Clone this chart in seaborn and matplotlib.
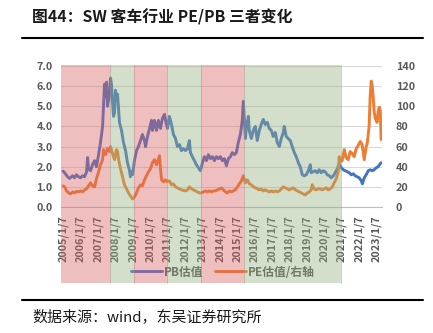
import matplotlib
matplotlib.use('Agg')
import matplotlib.pyplot as plt
import matplotlib.transforms as mtransforms
from matplotlib.patches import Rectangle
from matplotlib.lines import Line2D
import seaborn as sns
import pandas as pd

# ---------------- data ----------------
pb_year = [2005.0, 2005.09, 2005.26, 2005.37, 2005.55, 2005.66, 2005.77, 2005.89, 2006.0, 2006.12,
           2006.23, 2006.35, 2006.41, 2006.46, 2006.58, 2006.69, 2006.81, 2006.92, 2007.04, 2007.15,
           2007.27, 2007.32, 2007.38, 2007.44, 2007.5, 2007.55, 2007.67, 2007.73, 2007.78, 2007.84,
           2007.9, 2007.96, 2008.01, 2008.07, 2008.13, 2008.19, 2008.24, 2008.36, 2008.47, 2008.59,
           2008.7, 2008.82, 2008.87, 2008.93, 2008.99, 2009.1, 2009.22, 2009.33, 2009.45, 2009.56,
           2009.68, 2009.74, 2009.85, 2009.97, 2010.08, 2010.14, 2010.25, 2010.37, 2010.48, 2010.6,
           2010.71, 2010.83, 2010.89, 2011.0, 2011.11, 2011.23, 2011.34, 2011.46, 2011.57, 2011.69,
           2011.8, 2011.92, 2012.04, 2012.15, 2012.26, 2012.32, 2012.43, 2012.55, 2012.66, 2012.78,
           2012.89, 2013.01, 2013.12, 2013.24, 2013.35, 2013.47, 2013.58, 2013.7, 2013.81, 2013.93,
           2014.04, 2014.16, 2014.27, 2014.39, 2014.5, 2014.62, 2014.73, 2014.85, 2014.96, 2015.07,
           2015.19, 2015.3, 2015.36, 2015.42, 2015.48, 2015.53, 2015.65, 2015.7, 2015.82, 2015.93,
           2016.05, 2016.16, 2016.28, 2016.39, 2016.51, 2016.62, 2016.74, 2016.85, 2016.97, 2017.08,
           2017.2, 2017.31, 2017.43, 2017.54, 2017.66, 2017.71, 2017.83, 2017.94, 2018.06, 2018.17,
           2018.29, 2018.4, 2018.52, 2018.63, 2018.75, 2018.86, 2018.98, 2019.09, 2019.21, 2019.26,
           2019.38, 2019.49, 2019.61, 2019.72, 2019.84, 2019.95, 2020.07, 2020.18, 2020.3, 2020.41,
           2020.53, 2020.64, 2020.76, 2020.87, 2020.99, 2021.1, 2021.22, 2021.33, 2021.45, 2021.56,
           2021.68, 2021.79, 2021.91, 2022.02, 2022.14, 2022.2, 2022.31, 2022.42, 2022.54, 2022.65,
           2022.77, 2022.88, 2023.0, 2023.11, 2023.23, 2023.28]
pb_value = [1.78, 1.7, 1.5, 1.42, 1.55, 1.45, 1.6, 1.5, 1.45, 1.55,
            1.5, 1.75, 2.45, 1.9, 1.8, 2.1, 2.3, 2.0, 2.6, 3.2,
            4.0, 5.0, 6.1, 5.5, 6.2, 5.0, 5.6, 6.4, 6.1, 5.2,
            4.5, 4.7, 5.8, 5.3, 5.6, 4.8, 4.2, 3.8, 3.2, 2.8,
            2.2, 1.8, 1.5, 1.75, 1.6, 2.3, 2.8, 3.0, 3.3, 3.6,
            3.3, 3.0, 3.5, 3.9, 4.3, 3.8, 4.3, 3.8, 4.3, 3.9,
            4.4, 4.6, 4.3, 3.9, 4.5, 4.1, 3.6, 3.4, 3.0, 3.1,
            2.8, 2.9, 2.8, 2.9, 3.3, 2.7, 2.5, 2.3, 2.1, 1.95,
            1.8, 2.2, 2.5, 2.3, 2.6, 2.4, 2.5, 2.3, 2.5, 2.4,
            2.5, 2.3, 2.4, 2.05, 2.4, 2.5, 2.7, 2.6, 2.7, 3.2,
            3.6, 4.3, 5.25, 4.4, 3.4, 3.9, 4.5, 3.8, 3.4, 3.8,
            4.0, 3.3, 3.8, 4.1, 4.35, 4.1, 4.2, 3.9, 3.8, 3.5,
            3.7, 3.2, 3.0, 3.4, 3.7, 4.0, 3.5, 3.4, 3.3, 3.0,
            2.7, 2.5, 2.2, 2.0, 1.6, 1.55, 1.6, 1.8, 2.1, 1.7,
            1.75, 1.8, 1.7, 1.85, 1.7, 1.8, 1.75, 1.6, 1.55, 1.45,
            1.55, 1.7, 1.9, 2.15, 1.95, 1.85, 1.8, 1.75, 1.7, 1.6,
            1.65, 1.55, 1.5, 1.45, 1.3, 1.15, 1.45, 1.6, 1.8, 1.85,
            1.8, 1.85, 1.95, 2.0, 2.15, 2.2]

pe_year = [2005.0, 2005.09, 2005.2, 2005.32, 2005.43, 2005.55, 2005.66, 2005.77, 2005.89, 2006.0,
           2006.12, 2006.23, 2006.35, 2006.46, 2006.58, 2006.69, 2006.81, 2006.92, 2007.04, 2007.15,
           2007.27, 2007.32, 2007.44, 2007.55, 2007.67, 2007.73, 2007.84, 2007.96, 2008.07, 2008.13,
           2008.19, 2008.3, 2008.42, 2008.53, 2008.65, 2008.76, 2008.87, 2008.99, 2009.1, 2009.22,
           2009.33, 2009.45, 2009.56, 2009.68, 2009.79, 2009.91, 2010.02, 2010.14, 2010.25, 2010.37,
           2010.48, 2010.54, 2010.6, 2010.66, 2010.77, 2010.89, 2011.0, 2011.11, 2011.23, 2011.34,
           2011.46, 2011.57, 2011.69, 2011.8, 2011.92, 2012.04, 2012.15, 2012.26, 2012.38, 2012.49,
           2012.61, 2012.72, 2012.84, 2012.95, 2013.07, 2013.18, 2013.3, 2013.41, 2013.53, 2013.64,
           2013.76, 2013.87, 2013.99, 2014.1, 2014.22, 2014.33, 2014.44, 2014.56, 2014.67, 2014.79,
           2014.9, 2015.02, 2015.13, 2015.25, 2015.36, 2015.48, 2015.59, 2015.71, 2015.82, 2015.94,
           2016.05, 2016.16, 2016.28, 2016.39, 2016.51, 2016.62, 2016.74, 2016.85, 2016.97, 2017.08,
           2017.2, 2017.31, 2017.43, 2017.54, 2017.66, 2017.77, 2017.89, 2018.0, 2018.12, 2018.23,
           2018.35, 2018.46, 2018.58, 2018.69, 2018.81, 2018.92, 2019.04, 2019.15, 2019.26, 2019.32,
           2019.43, 2019.55, 2019.66, 2019.78, 2019.89, 2020.01, 2020.12, 2020.24, 2020.35, 2020.47,
           2020.58, 2020.7, 2020.81, 2020.87, 2020.93, 2021.04, 2021.16, 2021.27, 2021.39, 2021.5,
           2021.62, 2021.73, 2021.85, 2021.96, 2022.08, 2022.19, 2022.31, 2022.42, 2022.48, 2022.59,
           2022.65, 2022.71, 2022.77, 2022.82, 2022.88, 2022.94, 2023.0, 2023.05, 2023.11, 2023.17,
           2023.23, 2023.28]
pe_value = [21, 20, 16, 14, 13, 15, 14, 15.5, 15, 16,
            15, 17, 18, 21, 24, 21, 20, 28, 35, 42,
            47, 57, 52, 58, 55, 60, 53, 47, 57, 55,
            47, 38, 30, 22, 18, 14, 11, 8, 10, 14,
            19, 22, 21, 27, 31, 35, 38, 44, 47, 42,
            48, 51, 38, 27, 25, 27, 25, 26, 22, 23,
            20, 19, 18, 17, 16.5, 16, 17, 20, 18, 17,
            16, 15, 14, 14, 15, 16, 15, 16, 15, 16,
            16, 17, 18, 19, 17, 15, 14, 16, 15, 16,
            17, 20, 23, 26, 31, 24, 27, 23, 22, 20,
            19, 18, 17, 18, 16, 17, 16, 15, 16, 15,
            16, 15, 16, 18, 20, 19, 18, 17, 18, 19,
            17, 16, 15, 14, 13, 12, 14, 15, 17, 22,
            18, 17, 18, 18, 17, 18, 19, 17, 18, 20,
            24, 28, 35, 50, 45, 46, 57, 49, 47, 55,
            53, 50, 58, 61, 65, 62, 47, 60, 63, 80,
            110, 125, 120, 110, 95, 88, 86, 84, 95, 99,
            96, 67]

tick_years = list(range(2005, 2024))
tick_labels = [f"{y}/1/7" for y in tick_years]

band_start = [2004.88, 2007.67, 2009.05, 2011.0, 2012.9, 2015.42]
band_end = [2007.67, 2009.05, 2011.0, 2012.9, 2015.42, 2020.97]
band_kind = ['red', 'green', 'red', 'green', 'red', 'green']

pb_df = pd.DataFrame({'year': pb_year, 'PB估值': pb_value})
pe_df = pd.DataFrame({'year': pe_year, 'PE估值/右轴': pe_value})

# ---------------- styling ----------------
sns.set_theme(style='white')
plt.rcParams['font.family'] = ['Noto Sans CJK SC', 'DejaVu Sans']

W, H = 433, 333
fig = plt.figure(figsize=(W / 100, H / 100), dpi=100)
fig.patch.set_facecolor('white')

ax_l, ax_r, ax_t, ax_b = 61, 382, 66, 207
ax = fig.add_axes([ax_l / W, 1 - ax_b / H, (ax_r - ax_l) / W, (ax_b - ax_t) / H])
ax2 = ax.twinx()

BLUE = '#4472C4'
ORANGE = '#ED7D31'
GRAY = '#595959'

sns.lineplot(data=pb_df, x='year', y='PB估值', ax=ax, color=BLUE, lw=2.1,
             sort=False, label='PB估值', legend=False)
sns.lineplot(data=pe_df, x='year', y='PE估值/右轴', ax=ax2, color=ORANGE, lw=2.1,
             sort=False, label='PE估值/右轴', legend=False)

ax.set_xlim(2004.88, 2023.33)
ax.set_ylim(0, 7)
ax2.set_ylim(0, 140)
ax.set_yticks([i * 1.0 for i in range(8)])
ax.set_yticklabels([f"{i:.1f}" for i in range(8)])
ax2.set_yticks(list(range(0, 141, 20)))
ax.grid(axis='y', color='#d9d9d9', lw=0.8)
ax.grid(axis='x', visible=False)
ax2.grid(False)
ax.set_xticks([y + 6 / 365 for y in tick_years])
ax.set_xticklabels(tick_labels, rotation=90)
ax.set_xlabel('')
ax.set_ylabel('')
ax2.set_ylabel('')
for a in (ax, ax2):
    for s in a.spines.values():
        s.set_visible(False)
ax.spines['bottom'].set_visible(True)
ax.spines['bottom'].set_color('#bfbfbf')
ax.spines['bottom'].set_linewidth(0.8)
ax.tick_params(axis='x', length=3, color='#bfbfbf', width=0.8, pad=3,
               labelsize=7.8, labelcolor=GRAY)
ax.tick_params(axis='y', length=0, pad=6, labelsize=7.8, labelcolor=GRAY)
ax2.tick_params(axis='y', length=0, pad=10, labelsize=7.8, labelcolor=GRAY)
for lab in ax.get_xticklabels() + ax.get_yticklabels() + ax2.get_yticklabels():
    lab.set_fontweight('bold')

# legend
h1, l1 = ax.get_legend_handles_labels()
h2, l2 = ax2.get_legend_handles_labels()
leg = ax.legend(h1 + h2, l1 + l2, loc='center', bbox_to_anchor=(0.515, 1 - 272 / H),
                bbox_transform=fig.transFigure, ncol=2, frameon=False,
                fontsize=8.5, handlelength=2.6, columnspacing=1.0, handletextpad=0.2)
for t in leg.get_texts():
    t.set_color(GRAY)
    t.set_fontweight('bold')

# translucent regime bands over the plot (drawn at figure level)
trans = mtransforms.blended_transform_factory(ax.transData, fig.transFigure)
band_colors = {'red': '#D96060', 'green': '#93AF7D'}
y0f, y1f = 1 - 283 / H, 1 - 65 / H
for s, e, k in zip(band_start, band_end, band_kind):
    r = Rectangle((s, y0f), e - s, y1f - y0f, transform=trans,
                  facecolor=band_colors[k], alpha=0.4, edgecolor='none', zorder=5)
    fig.add_artist(r)
    fig.add_artist(Line2D([e, e], [y0f, y1f], transform=trans, color='#b08080',
                          lw=0.6, alpha=0.5, zorder=6))

# title, rules, footer
fig.text(32 / W, 1 - 17 / H, '图44：SW 客车行业 PE/PB 三者变化', fontsize=11.4,
         fontweight='bold', color='#1a1a1a', va='center', ha='left')
fig.add_artist(Line2D([22 / W, 423 / W], [1 - 38 / H] * 2, color='black', lw=1.5))
fig.add_artist(Line2D([22 / W, 423 / W], [1 - 300 / H] * 2, color='black', lw=1.5))
fig.text(32 / W, 1 - 317 / H, '数据来源：wind，东吴证券研究所', fontsize=10.8,
         color='#1a1a1a', va='center', ha='left')

fig.savefig('out.png', dpi=100)
